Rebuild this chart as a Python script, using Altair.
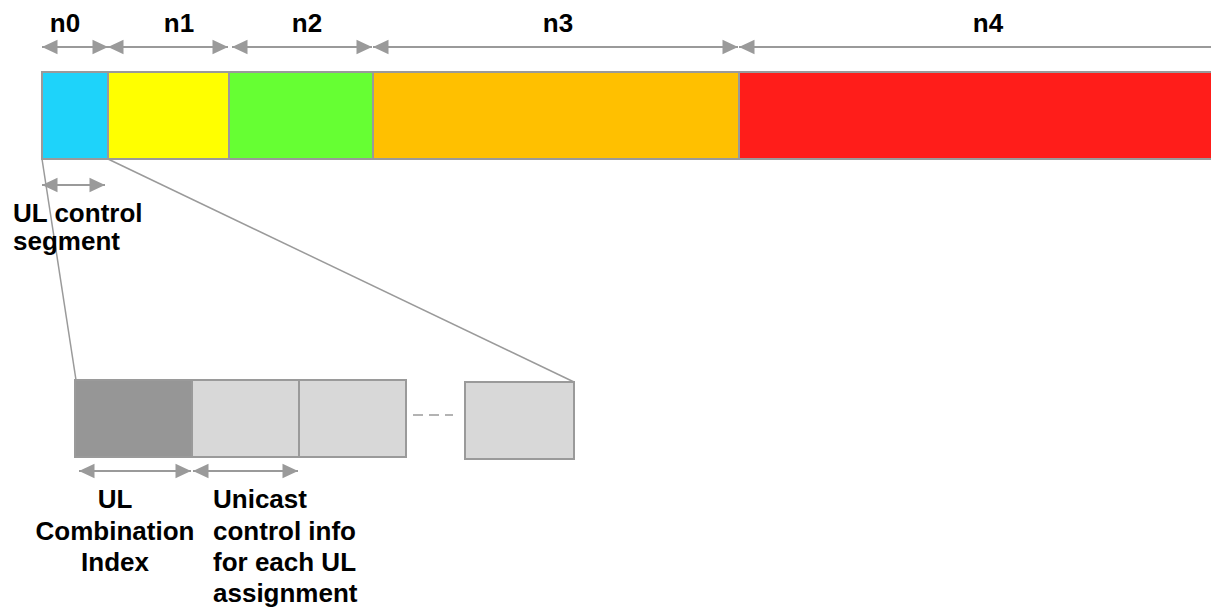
import altair as alt
import pandas as pd

# ---------------- data ----------------
seg_labels = ["n0", "n1", "n2", "n3", "n4"]
seg_start = [42, 108, 229, 373, 739]
seg_end = [108, 229, 373, 739, 1226]
seg_colors = ["#1ED3FA", "#FFFF00", "#66FF33", "#FFC000", "#FF1D1A"]
seg_top, seg_bottom = 72, 159
label_x = [65, 179, 307, 558, 988]
label_y = 32

arrow_start = [42, 108, 232, 373, 739, 42, 79, 193]
arrow_end = [108, 228, 372, 738, 1231, 105, 191, 298]
arrow_y = [47, 47, 47, 47, 47, 185, 471, 471]

box_start = [75, 192, 299, 465]
box_end = [192, 299, 406, 574]
box_top = [380, 380, 380, 382]
box_bottom = [457, 457, 457, 459]
box_fill = ["#969696", "#D8D8D8", "#D8D8D8", "#D8D8D8"]

zoom_x1 = [42, 108]
zoom_y1 = [159, 159]
zoom_x2 = [76, 574]
zoom_y2 = [380, 382]

dash_x = [413, 453]
dash_y = 415

text_lines = ["UL control", "segment", "UL", "Combination", "Index",
              "Unicast", "control info", "for each UL", "assignment"]
text_x = [13, 13, 115, 115, 115, 213, 213, 213, 213]
text_y = [222, 250, 508, 540, 571, 508, 540, 571, 602]
text_align = ["left", "left", "center", "center", "center", "left", "left", "left", "left"]

GRAY = "#9A9A9A"
FONT = "Liberation Sans"

# ---------------- scales ----------------
xs = alt.Scale(domain=[8, 1211], nice=False, zero=False)
ys = alt.Scale(domain=[8, 608], nice=False, zero=False, reverse=True)

def X(f):
    return alt.X(f, type="quantitative", scale=xs, axis=None)

def Y(f):
    return alt.Y(f, type="quantitative", scale=ys, axis=None)

# ---------------- layers ----------------
seg_df = pd.DataFrame({"label": seg_labels, "x1": seg_start, "x2": seg_end,
                       "color": seg_colors, "y1": seg_top, "y2": seg_bottom,
                       "lx": label_x, "ly": label_y})

segments = alt.Chart(seg_df).mark_rect(stroke=GRAY, strokeWidth=2).encode(
    x=X("x1"), x2="x2", y=Y("y1"), y2="y2",
    fill=alt.Fill("color:N", scale=None))

seg_text = alt.Chart(seg_df).mark_text(
    font=FONT, fontWeight="bold", fontSize=26, baseline="alphabetic",
    align="center", color="black").encode(x=X("lx"), y=Y("ly"), text="label:N")

arr_df = pd.DataFrame({"x1": arrow_start, "x2": arrow_end, "y": arrow_y})

arrow_lines = alt.Chart(arr_df).mark_rule(color=GRAY, strokeWidth=2).encode(
    x=X("x1"), x2="x2", y=Y("y"))

head_right = alt.Chart(arr_df).mark_point(
    shape="M0,0L-2,-0.95L-2,0.95Z", filled=True, size=240, color=GRAY,
    opacity=1, strokeWidth=0).encode(x=X("x2"), y=Y("y"))

head_left = alt.Chart(arr_df).mark_point(
    shape="M0,0L2,-0.95L2,0.95Z", filled=True, size=240, color=GRAY,
    opacity=1, strokeWidth=0).encode(x=X("x1"), y=Y("y"))

zoom_df = pd.DataFrame({"x1": zoom_x1, "y1": zoom_y1, "x2": zoom_x2, "y2": zoom_y2})
zoom_lines = alt.Chart(zoom_df).mark_rule(color=GRAY, strokeWidth=1.5).encode(
    x=X("x1"), y=Y("y1"), x2="x2", y2="y2")

box_df = pd.DataFrame({"x1": box_start, "x2": box_end, "y1": box_top,
                       "y2": box_bottom, "fill": box_fill})
boxes = alt.Chart(box_df).mark_rect(stroke=GRAY, strokeWidth=2).encode(
    x=X("x1"), x2="x2", y=Y("y1"), y2="y2",
    fill=alt.Fill("fill:N", scale=None))

dash_df = pd.DataFrame({"x1": [dash_x[0]], "x2": [dash_x[1]], "y": [dash_y]})
dashes = alt.Chart(dash_df).mark_rule(color=GRAY, strokeWidth=1.5,
                                      strokeDash=[10, 6]).encode(
    x=X("x1"), x2="x2", y=Y("y"))

txt_df = pd.DataFrame({"t": text_lines, "x": text_x, "y": text_y, "a": text_align})
texts = []
for al in ["left", "center"]:
    texts.append(alt.Chart(txt_df[txt_df["a"] == al]).mark_text(
        font=FONT, fontWeight="bold", fontSize=26, baseline="alphabetic",
        align=al, color="black").encode(x=X("x"), y=Y("y"), text="t:N"))

chart = alt.layer(
    zoom_lines, segments, boxes, dashes, arrow_lines, head_right, head_left,
    seg_text, *texts
).properties(
    width=1203, height=600, padding=0, autosize=alt.AutoSizeParams(type="none")
).configure_view(stroke=None)

chart.save("out.html", embed_options={"renderer": "svg", "actions": False})
